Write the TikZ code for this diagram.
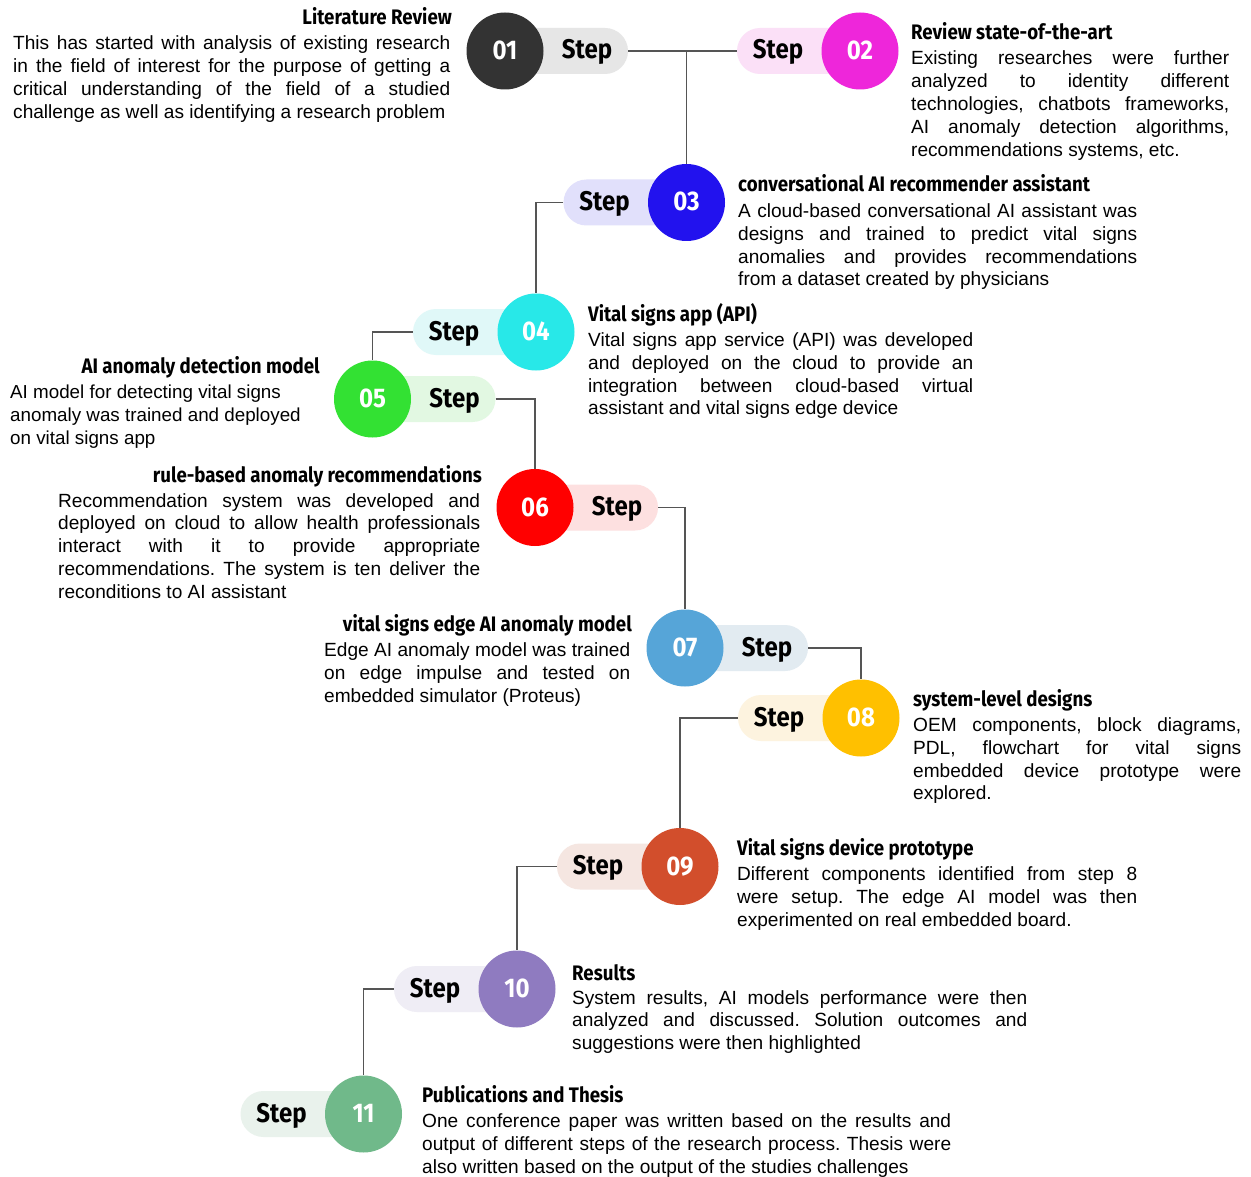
\documentclass[tikz,border=0pt]{standalone}
\usepackage{fontspec}
\usetikzlibrary{shapes.misc}
\setmainfont{Liberation Sans}
\newfontfamily\bodyfont{Liberation Sans}
\newfontfamily\headfont[FakeStretch=0.89]{Fira Sans}
\frenchspacing

% circle / pill colours for each step
\definecolor{c01}{HTML}{333333}\definecolor{p01}{HTML}{E6E6E6}
\definecolor{c02}{HTML}{EE26DA}\definecolor{p02}{HTML}{FBE0F7}
\definecolor{c03}{HTML}{2212EE}\definecolor{p03}{HTML}{E1E0FB}
\definecolor{c04}{HTML}{28E8E8}\definecolor{p04}{HTML}{E0F8F8}
\definecolor{c05}{HTML}{33E133}\definecolor{p05}{HTML}{E2F8E2}
\definecolor{c06}{HTML}{FF0000}\definecolor{p06}{HTML}{FDE0E0}
\definecolor{c07}{HTML}{56A5D8}\definecolor{p07}{HTML}{E2EBF1}
\definecolor{c08}{HTML}{FFC000}\definecolor{p08}{HTML}{FDF3DF}
\definecolor{c09}{HTML}{D24E2C}\definecolor{p09}{HTML}{F5E6E1}
\definecolor{c10}{HTML}{8F7BC0}\definecolor{p10}{HTML}{EFEDF5}
\definecolor{c11}{HTML}{70B98A}\definecolor{p11}{HTML}{E9F2EC}
\definecolor{wire}{HTML}{555555}

\newcommand\lskip{22.8}
\newcommand\bodysize{\fontsize{19.1}{22.8}\selectfont}
\newcommand\plainsize{\fontsize{18.8}{22.8}\selectfont}

\tikzset{
  stepcircle/.style={circle, minimum size=77pt, inner sep=0pt},
  stepnum/.style={anchor=base, inner sep=0pt, text=white,
    font=\headfont\bfseries\fontsize{27}{27}\selectfont},
  pill/.style={rounded rectangle, minimum height=46pt, minimum width=123pt, inner sep=0pt},
  steplabel/.style={anchor=base, inner sep=0pt, font=\headfont\bfseries\fontsize{27}{27}\selectfont},
  headline/.style={inner sep=0pt, font=\headfont\bfseries\fontsize{21}{21}\selectfont},
  bodyline/.style={anchor=base west, inner sep=0pt, font=\bodyfont\bodysize},
  plainline/.style={anchor=base west, inner sep=0pt, font=\bodyfont\plainsize},
  wireline/.style={draw=wire, line width=1.4pt},
}

% justified paragraph: name, x, first baseline, width, full lines, last line
\newcommand\justpar[6]{%
  \foreach \ln [count=\k] in {#5}{
    \node[bodyline] (#1-\k) at (#2,{#3+(\k-1)*\lskip}) {\makebox[#4pt][s]{\ln}};
    \xdef\nfull{\k}
  }
  \node[bodyline] (#1-last) at (#2,{#3+\nfull*\lskip}) {#6};
}

% one step: number, centre x, centre y, pill side (1 right, -1 left)
\newcommand\stepmark[4]{%
  \node[pill, fill=p#1] (p#1) at ({#2+#4*61.5},#3) {};
  \node[steplabel] (s#1) at ({#2+#4*82},{#3+8}) {Step};
  \node[stepcircle, fill=c#1] (c#1) at (#2,#3) {};
  \node[stepnum] (n#1) at (#2,{#3+8.5}) {#1};
}

\begin{document}
\begin{tikzpicture}[x=1pt,y=-1pt]
\useasboundingbox[fill=white] (0,0) rectangle (1251,1177);

\stepmark{01}{505}{51}{1}
\stepmark{02}{860}{51}{-1}
\stepmark{03}{686.5}{202.5}{-1}
\stepmark{04}{536}{332}{-1}
\stepmark{05}{372.5}{399}{1}
\stepmark{06}{535}{507.5}{1}
\stepmark{07}{685}{648}{1}
\stepmark{08}{861}{718}{-1}
\stepmark{09}{680}{866.5}{-1}
\stepmark{10}{517}{989}{-1}
\stepmark{11}{363.5}{1114}{-1}

% connectors between the steps
\draw[wireline] (p01.east) -| (c03.north);
\draw[wireline] (p02.west) -- (p02.west -| c03.north);
\draw[wireline] (p03.west) -| (c04.north);
\draw[wireline] (p04.west) -| (c05.north);
\draw[wireline] (p05.east) -| (c06.north);
\draw[wireline] (p06.east) -| (c07.north);
\draw[wireline] (p07.east) -| (c08.north);
\draw[wireline] (p08.west) -| (c09.north);
\draw[wireline] (p09.west) -| (c10.north);
\draw[wireline] (p10.west) -| (c11.north);

% headings
\node[headline, anchor=base east] (h01) at (452,25) {Literature Review};
\node[headline, anchor=base west] (h02) at (911,40) {Review state-of-the-art};
\node[headline, anchor=base west] (h03) at (738,192) {conversational AI recommender assistant};
\node[headline, anchor=base west] (h04) at (588,321) {Vital signs app (API)};
\node[headline, anchor=base east] (h05) at (320,373) {AI anomaly detection model};
\node[headline, anchor=base east] (h06) at (482,482) {rule-based anomaly recommendations};
\node[headline, anchor=base east] (h07) at (632,631) {vital signs edge AI anomaly model};
\node[headline, anchor=base west] (h08) at (913,706) {system-level designs};
\node[headline, anchor=base west] (h09) at (737,855) {Vital signs device prototype};
\node[headline, anchor=base west] (h10) at (572,980) {Results};
\node[headline, anchor=base west] (h11) at (422,1102) {Publications and Thesis};

% descriptions
\justpar{t01}{13}{50}{437}{{This has started with analysis of existing research},{in the field of interest for the purpose of getting a},{critical understanding of the field of a studied}}{challenge as well as identifying a research problem}
\justpar{t02}{911}{65}{318}{{Existing researches were further},{analyzed to identity different},{technologies, chatbots frameworks,},{AI anomaly detection algorithms,}}{recommendations systems, etc.}
\justpar{t03}{738}{217.5}{399}{{A cloud-based conversational AI assistant was},{designs and trained to predict vital signs},{anomalies and provides recommendations}}{from a dataset created by physicians}
\justpar{t04}{588}{346.5}{385}{{Vital signs app service (API) was developed},{and deployed on the cloud to provide an},{integration between cloud-based virtual}}{assistant and vital signs edge device}
\foreach \ln [count=\k] in {{AI model for detecting vital signs},{anomaly was trained and deployed},{on vital signs app}}{
  \node[plainline] (t05-\k) at (10,{398.5+(\k-1)*\lskip}) {\ln};
}
\justpar{t06}{58}{507}{422}{{Recommendation system was developed and},{deployed on cloud to allow health professionals},{interact with it to provide appropriate},{recommendations. The system is ten deliver the}}{reconditions to AI assistant}
\justpar{t07}{324}{656.5}{306}{{Edge AI anomaly model was trained},{on edge impulse and tested on}}{embedded simulator (Proteus)}
\justpar{t08}{913}{731.5}{328}{{OEM components, block diagrams,},{PDL, flowchart for vital signs},{embedded device prototype were}}{explored.}
\justpar{t09}{737}{880.5}{400}{{Different components identified from step 8},{were setup. The edge AI model was then}}{experimented on real embedded board.}
\justpar{t10}{572}{1004}{455}{{System results, AI models performance were then},{analyzed and discussed. Solution outcomes and}}{suggestions were then highlighted}
\justpar{t11}{422}{1127.5}{529}{{One conference paper was written based on the results and},{output of different steps of the research process. Thesis were}}{also written based on the output of the studies challenges}
\end{tikzpicture}
\end{document}
